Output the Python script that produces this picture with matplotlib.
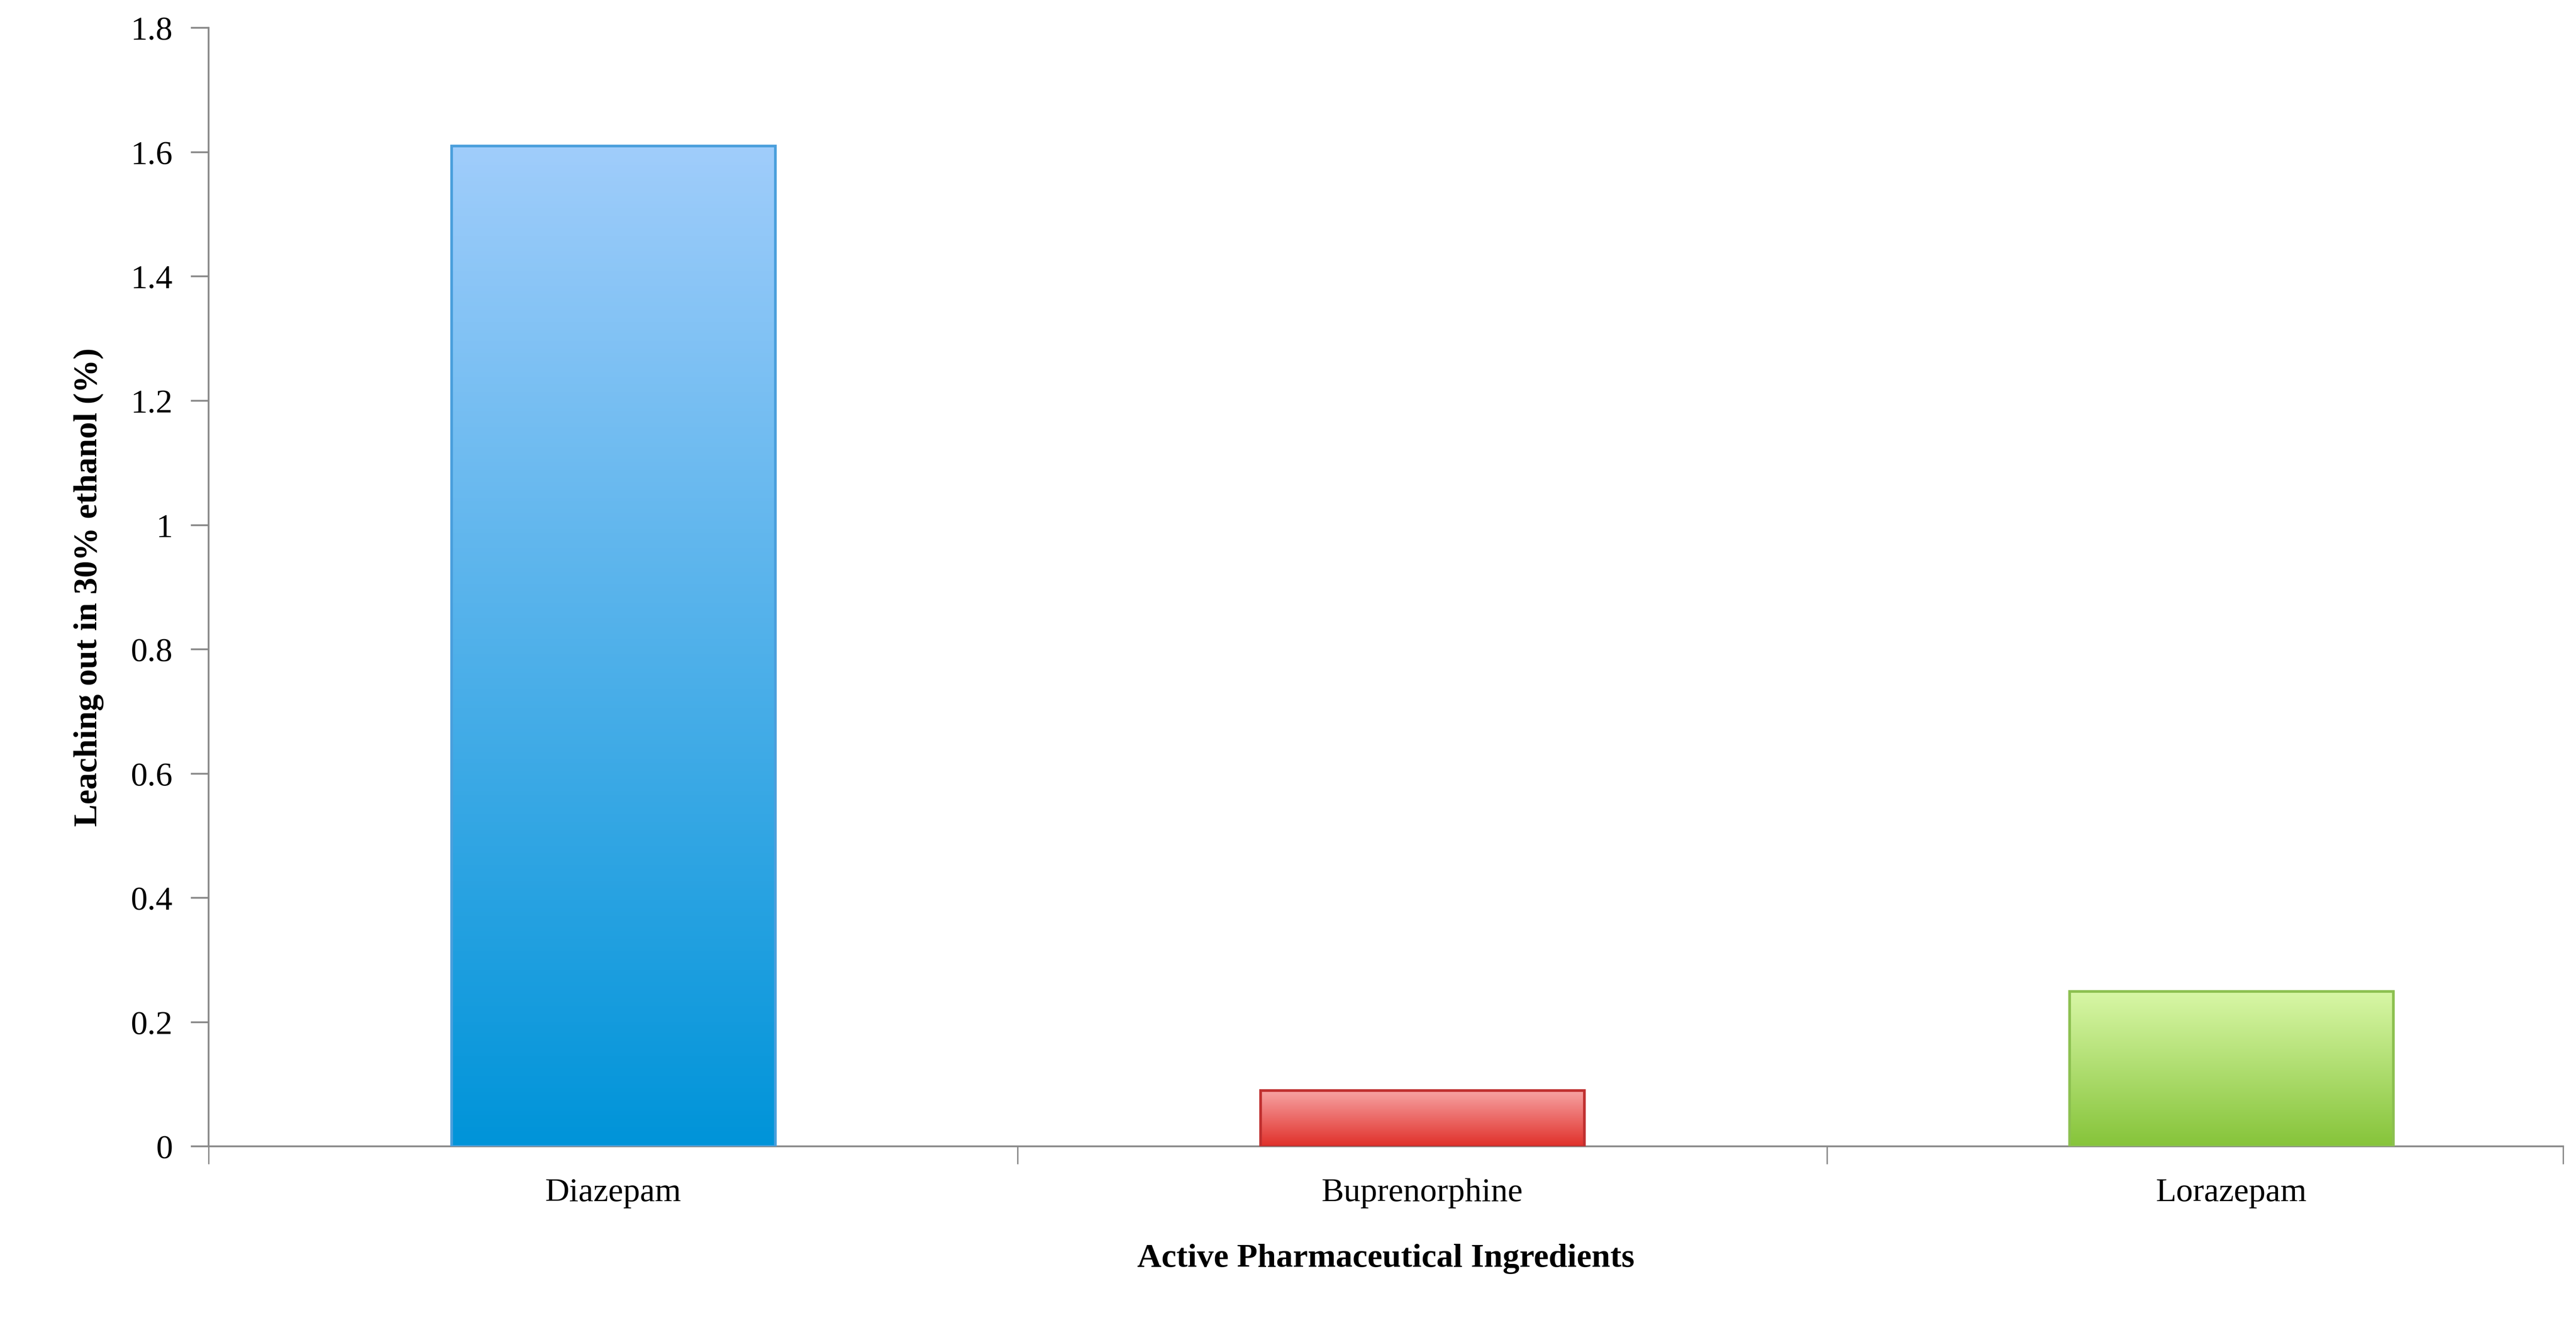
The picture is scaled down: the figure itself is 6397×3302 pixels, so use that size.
import matplotlib
matplotlib.use("Agg")
import matplotlib.pyplot as plt
import numpy as np
from matplotlib.colors import LinearSegmentedColormap

categories = ["Diazepam", "Buprenorphine", "Lorazepam"]
values = [1.61, 0.09, 0.25]
tops = ["#a0cdfb", "#f7a3a3", "#d8f7a6"]
bottoms = ["#0094d9", "#e0302a", "#86c43a"]
edges = ["#4a9fdc", "#c03030", "#8cc050"]

plt.rcParams['font.family'] = ['Liberation Serif', 'DejaVu Serif']
fig = plt.figure(figsize=(6397/400, 3302/400), dpi=400)
ax = fig.add_axes([0.081, 0.138, 0.914, 0.841])
x = np.arange(len(categories))
w = 0.4
bars = ax.bar(x, values, width=w, color='none', edgecolor=edges, linewidth=1.2, zorder=3)
grad = np.linspace(0, 1, 256).reshape(-1, 1)
for b, t, bo in zip(bars, tops, bottoms):
    cmap = LinearSegmentedColormap.from_list("g", [bo, t])
    x0 = b.get_x(); h = b.get_height()
    im = ax.imshow(grad, cmap=cmap, origin='lower', aspect='auto',
                   extent=[x0, x0 + w, 0, h], zorder=2)
    im.set_clip_path(b)
ax.set_xlim(-0.5, 2.41)
ax.set_ylim(0, 1.8)
ax.set_yticks(np.arange(0, 1.81, 0.2))
ax.set_yticklabels(["0", "0.2", "0.4", "0.6", "0.8", "1", "1.2", "1.4", "1.6", "1.8"])
ax.set_xticks(x)
ax.set_xticklabels(categories)
ax.set_xticks([-0.5, 0.5, 1.5, 2.41], minor=True)
ax.tick_params(axis='x', which='major', length=0, pad=14, labelsize=15)
ax.tick_params(axis='x', which='minor', length=8, direction='out', color='#888888')
ax.tick_params(axis='y', length=8, direction='out', labelsize=15, pad=8, color='#888888')
for s in ['top', 'right']:
    ax.spines[s].set_visible(False)
for s in ['left', 'bottom']:
    ax.spines[s].set_color('#888888')
ax.set_ylabel("Leaching out in 30% ethanol (%)", fontsize=15, fontweight='bold', labelpad=12)
ax.set_xlabel("Active Pharmaceutical Ingredients", fontsize=15, fontweight='bold', labelpad=16)
fig.savefig("out.png", dpi=400)
